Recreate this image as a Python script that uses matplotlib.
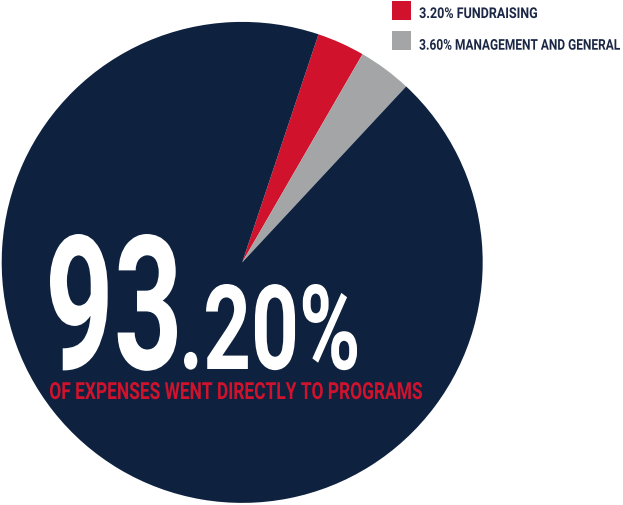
import matplotlib
matplotlib.use('Agg')
import matplotlib.pyplot as plt
import matplotlib.text as mtext
from matplotlib.patches import Rectangle
from matplotlib.patheffects import AbstractPathEffect
from matplotlib.transforms import Affine2D, Bbox
from matplotlib.textpath import TextPath
from matplotlib.font_manager import FontProperties

# ---- data ----
labels = ['FUNDRAISING', 'MANAGEMENT AND GENERAL', 'PROGRAMS']
values = [3.2, 3.6, 93.2]
colors = ['#D0122C', '#A3A5A7', '#0E2240']
big_main = '93'
big_frac = '.20%'
subtitle = 'OF EXPENSES WENT DIRECTLY TO PROGRAMS'
legend_labels = ['3.20% FUNDRAISING', '3.60% MANAGEMENT AND GENERAL']

FAM = 'Roboto'
W, H, DPI = 623, 506, 100
fig = plt.figure(figsize=(W / DPI, H / DPI), dpi=DPI)
ax = fig.add_axes([0, 0, 1, 1])

ax.pie(values, colors=colors, startangle=71.5, counterclock=False,
       center=(242.2, 242.6), radius=240.5, frame=True,
       wedgeprops=dict(linewidth=0))
ax.set_xlim(0, W)
ax.set_ylim(0, H)
ax.set_aspect('equal')
ax.axis('off')


class HScale(AbstractPathEffect):
    """Compress glyphs horizontally about x0 (display px) to get a condensed face."""
    def __init__(self, sx, x0):
        super().__init__()
        self.sx, self.x0 = sx, x0

    def draw_path(self, renderer, gc, tpath, affine, rgbFace=None):
        t = affine + Affine2D().translate(-self.x0, 0).scale(self.sx, 1).translate(self.x0, 0)
        renderer.draw_path(gc, tpath, t, rgbFace)


class CondensedText(mtext.Text):
    """Text drawn horizontally condensed; reports its condensed extent."""
    def __init__(self, *args, sx=1.0, xd=0.0, **kwargs):
        super().__init__(*args, **kwargs)
        self._sx, self._xd = sx, xd
        self.set_path_effects([HScale(sx, xd)])

    def get_window_extent(self, renderer=None, dpi=None):
        bb = super().get_window_extent(renderer, dpi)
        x0, sx = self._xd, self._sx
        return Bbox.from_extents(x0 + (bb.x0 - x0) * sx, bb.y0,
                                 x0 + (bb.x1 - x0) * sx, bb.y1)


def fitted_text(s, left, right, top, baseline, color, weight='bold'):
    # coordinates given in image pixels from top-left
    fp = FontProperties(family=FAM, weight=weight)
    ext = TextPath((0, 0), s, size=100, prop=fp).get_extents()
    cap_px = baseline - top
    size_px = 100 * cap_px / ext.ymax
    fs_pt = size_px * 72 / DPI
    ink_w = ext.width * size_px / 100
    xmin = ext.xmin * size_px / 100
    sx = (right - left) / ink_w
    x0 = left - sx * xmin
    y0 = H - baseline
    xd = ax.transData.transform((x0, y0))[0]
    t = CondensedText(x0, y0, s, sx=sx, xd=xd, color=color, fontsize=fs_pt,
                      family=FAM, fontweight=weight, va='baseline', ha='left')
    ax.add_artist(t)
    return t


fitted_text(big_main, 50, 177, 235, 370, 'white')
fitted_text(big_frac, 184, 357, 285, 370, 'white')
fitted_text(subtitle, 50, 422, 383, 400, colors[0])

# legend
sq_tops = [1.7, 32.3]
tops = [8.3, 40]
bases = [19, 50.7]
rights = [537, 620]
for lab, c, st, tp, bs, rt in zip(legend_labels, colors[:2], sq_tops, tops, bases, rights):
    ax.add_patch(Rectangle((392, H - st - 19), 19, 19, color=c, lw=0))
    fitted_text(lab, 419.5, rt, tp, bs, '#1B2745')

fig.savefig('out.png', dpi=DPI, facecolor='white')
